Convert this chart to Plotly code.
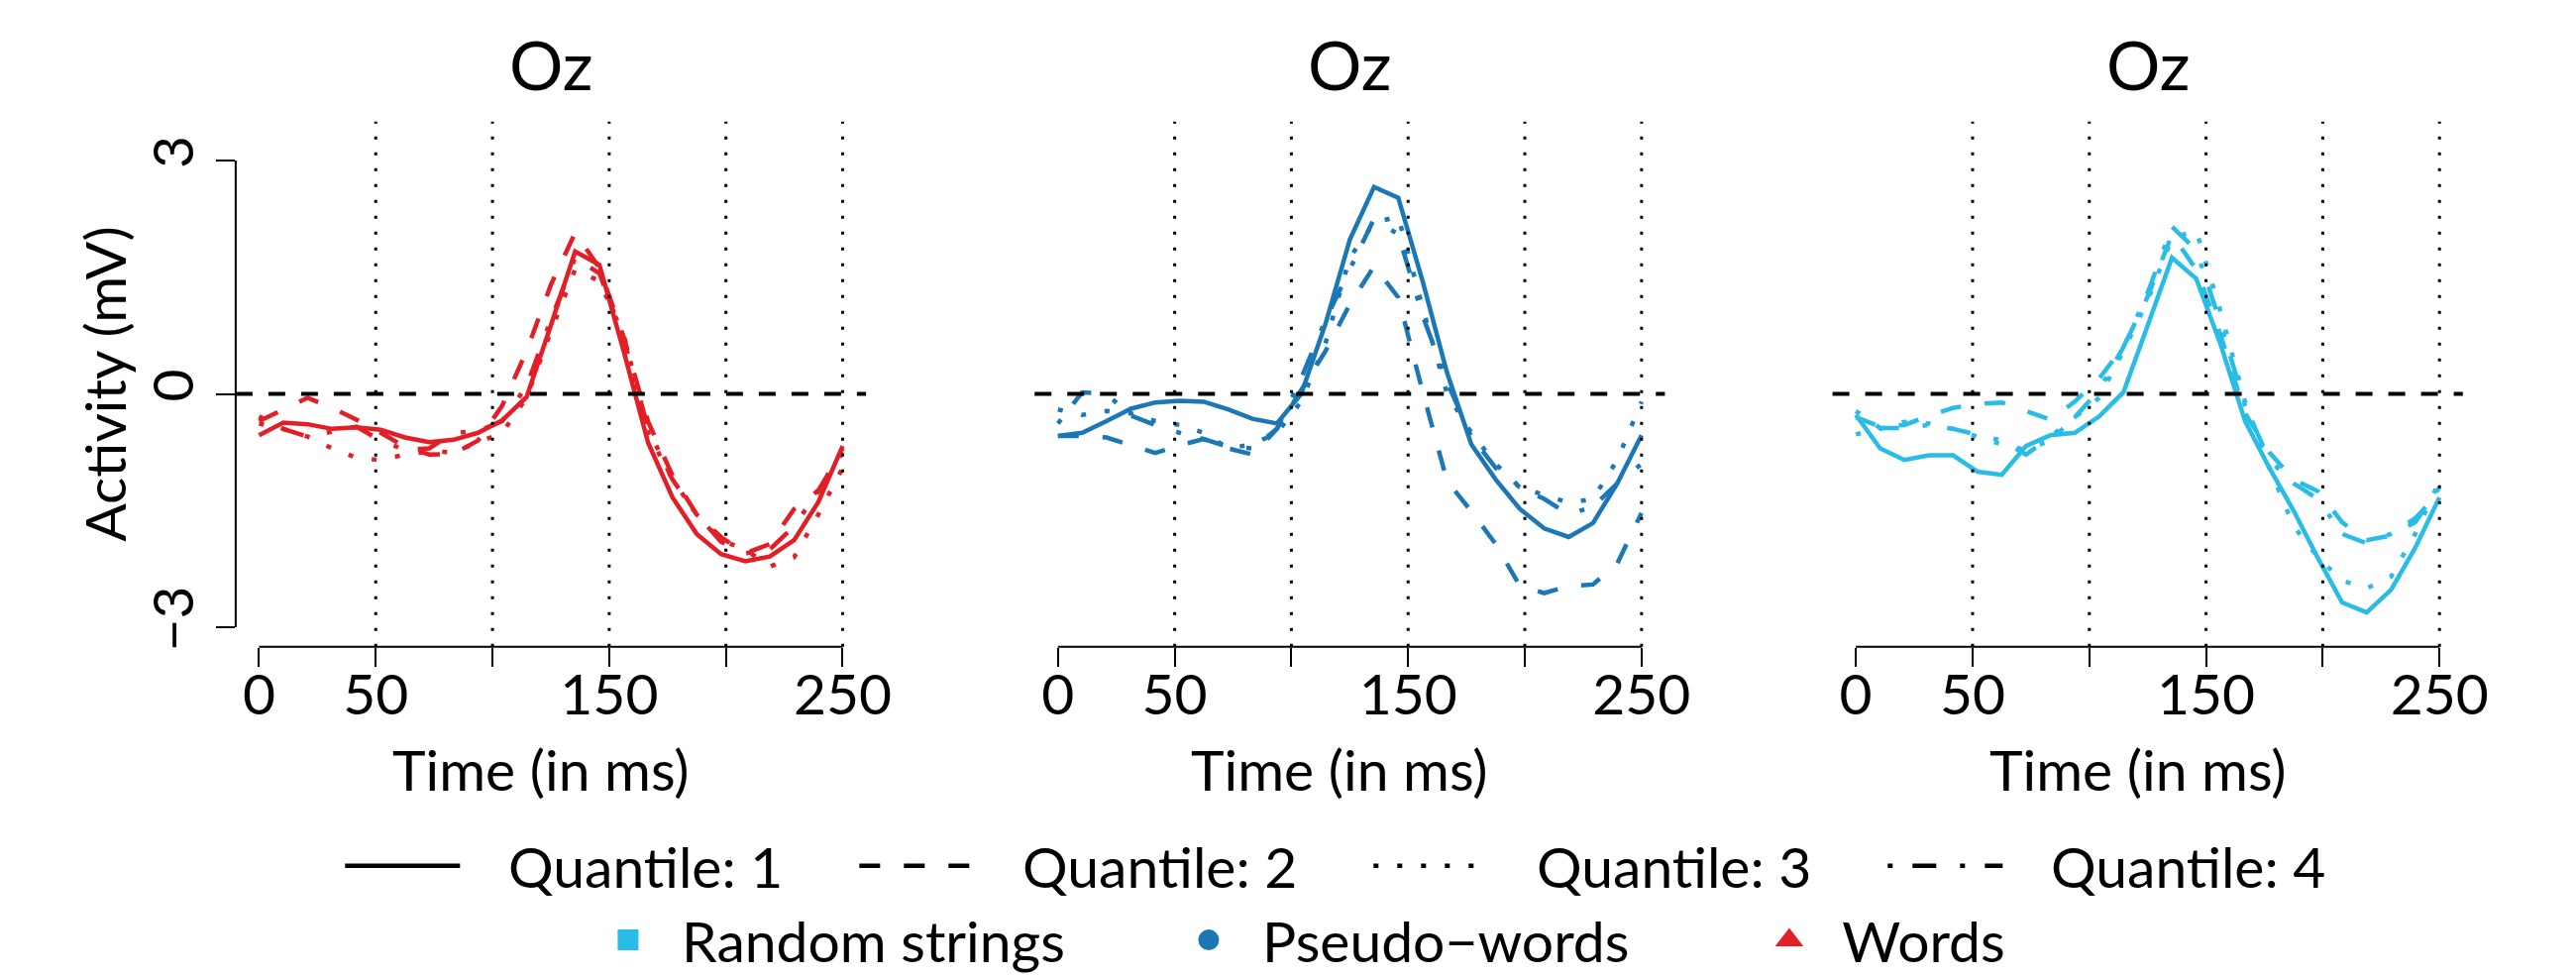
import plotly.graph_objects as go

# ---------------- data ----------------
time_ms = [0, 10.4, 20.8, 31.3, 41.7, 52.1, 62.5, 72.9, 83.3, 93.8, 104.2, 114.6, 125.0,
           135.4, 145.8, 156.3, 166.7, 177.1, 187.5, 197.9, 208.3, 218.8, 229.2, 239.6, 250.0]

panel_titles = ["Oz", "Oz", "Oz"]
quantile_names = ["Quantile: 1", "Quantile: 2", "Quantile: 3", "Quantile: 4"]
condition_names = ["Random strings", "Pseudo\u2212words", "Words"]

# Panel 1 : Words
words_q1 = [-0.53, -0.37, -0.39, -0.45, -0.43, -0.46, -0.56, -0.62, -0.59, -0.50, -0.34, -0.04, 0.88,
            1.83, 1.66, 0.54, -0.63, -1.33, -1.80, -2.06, -2.15, -2.09, -1.88, -1.39, -0.67]
words_q2 = [-0.35, -0.20, -0.05, -0.18, -0.33, -0.50, -0.68, -0.78, -0.77, -0.60, -0.15, 0.55, 1.40,
            2.07, 1.62, 0.72, -0.36, -1.05, -1.55, -1.84, -2.05, -1.93, -1.48, -1.24, -0.75]
words_q3 = [-0.38, -0.45, -0.55, -0.70, -0.82, -0.85, -0.78, -0.74, -0.75, -0.62, -0.50, -0.05, 0.80,
            1.60, 1.45, 0.75, -0.50, -1.10, -1.55, -1.88, -2.00, -2.22, -2.10, -1.55, -0.95]
words_q4 = [-0.29, -0.45, -0.55, -0.48, -0.42, -0.60, -0.72, -0.70, -0.50, -0.48, -0.35, 0.10, 0.95,
            1.75, 1.55, 0.70, -0.45, -1.10, -1.55, -1.90, -2.05, -2.00, -1.70, -1.25, -0.70]

# Panel 2 : Pseudo-words
pseudo_q1 = [-0.54, -0.50, -0.35, -0.19, -0.11, -0.09, -0.10, -0.20, -0.32, -0.38, 0.00, 0.90, 1.98,
             2.66, 2.52, 1.44, 0.27, -0.65, -1.10, -1.48, -1.73, -1.84, -1.66, -1.15, -0.53]
pseudo_q2 = [-0.54, -0.54, -0.56, -0.66, -0.76, -0.66, -0.58, -0.70, -0.78, -0.45, 0.05, 0.55, 1.15,
             1.64, 1.24, 0.02, -1.12, -1.51, -1.93, -2.47, -2.56, -2.47, -2.45, -2.18, -1.53]
pseudo_q3 = [-0.20, -0.27, -0.22, -0.25, -0.35, -0.40, -0.50, -0.70, -0.65, -0.50, -0.10, 0.65, 1.75,
             2.20, 2.28, 1.10, 0.00, -0.50, -0.90, -1.20, -1.30, -1.40, -1.35, -0.85, -0.10]
pseudo_q4 = [-0.38, 0.02, 0.00, -0.28, -0.40, -0.50, -0.58, -0.68, -0.70, -0.45, 0.20, 0.95, 1.60,
             2.25, 2.05, 1.00, 0.15, -0.55, -0.95, -1.20, -1.35, -1.55, -1.45, -1.15, -0.90]

# Panel 3 : Random strings
random_q1 = [-0.27, -0.70, -0.85, -0.79, -0.79, -1.00, -1.04, -0.67, -0.53, -0.50, -0.29, 0.02, 0.88,
             1.75, 1.48, 0.63, -0.35, -0.95, -1.50, -2.11, -2.68, -2.81, -2.52, -1.98, -1.33]
random_q2 = [-0.30, -0.42, -0.40, -0.28, -0.18, -0.13, -0.11, -0.22, -0.33, -0.10, 0.20, 0.60, 1.25,
             2.05, 1.60, 0.75, -0.25, -0.75, -1.10, -1.25, -1.65, -1.88, -1.82, -1.65, -1.20]
random_q3 = [-0.52, -0.45, -0.36, -0.38, -0.45, -0.55, -0.65, -0.72, -0.60, -0.30, -0.05, 0.55, 1.20,
             2.00, 2.10, 1.05, -0.10, -0.95, -1.70, -2.10, -2.40, -2.50, -2.35, -1.80, -1.12]
random_q4 = [-0.22, -0.44, -0.44, -0.40, -0.45, -0.52, -0.60, -0.78, -0.55, -0.30, 0.05, 0.60, 1.30,
             2.15, 1.85, 0.90, -0.15, -0.85, -1.15, -1.35, -1.80, -1.92, -1.80, -1.60, -1.26]

x_tick_vals = [0, 50, 100, 150, 200, 250]
x_tick_text = ["0", "50", "", "150", "", "250"]
y_tick_vals = [-3, 0, 3]
y_tick_text = ["\u22123", "0", "3"]
grid_times = [50, 100, 150, 200, 250]

# ---------------- style ----------------
FONT = "Lato"
FS = 57
COL_WORDS = "#E41E26"
COL_PSEUDO = "#1B77B5"
COL_RANDOM = "#29BCE7"
DASHES = ["solid", "21px,24px", "5px,19px", "5px,20px,24px,24px"]
LW = 4.5
W, H = 2600, 985

panels = [
    (COL_WORDS, [words_q1, words_q2, words_q3, words_q4]),
    (COL_PSEUDO, [pseudo_q1, pseudo_q2, pseudo_q3, pseudo_q4]),
    (COL_RANDOM, [random_q1, random_q2, random_q3, random_q4]),
]
x_domains = [[0.08931, 0.33646], [0.40258, 0.64973], [0.71546, 0.96262]]
y_domain = [0.3374, 0.8821]
X_RANGE = [-10, 260]
Y_RANGE = [-3.25, 3.5]


def sfx(k):
    return "" if k == 1 else str(k)


fig = go.Figure()

for k, (col, series) in enumerate(panels, start=1):
    for q, ys in enumerate(series):
        fig.add_trace(go.Scatter(
            x=time_ms, y=ys, mode="lines",
            line=dict(color=col, width=LW, dash=DASHES[q]),
            xaxis=f"x{sfx(k)}", yaxis=f"y{sfx(k)}", showlegend=False, hoverinfo="skip"))

# legend row 1 (line types)
for q, nm in enumerate(quantile_names):
    fig.add_trace(go.Scatter(
        x=[None], y=[None], mode="lines", name="\u00a0\u00a0\u00a0" + nm,
        line=dict(color="black", width=4.5, dash=DASHES[q]), legend="legend"))

# legend row 2 (conditions)
for nm, col, sym in zip(condition_names, [COL_RANDOM, COL_PSEUDO, COL_WORDS],
                        ["square", "circle", "triangle-up"]):
    fig.add_trace(go.Scatter(
        x=[None], y=[None], mode="markers", name="\u00a0\u00a0" + nm,
        marker=dict(color=col, size=16, symbol=sym, line=dict(color=col, width=8)),
        legend="legend2"))

layout = dict(
    width=W, height=H,
    margin=dict(l=0, r=0, t=0, b=0),
    paper_bgcolor="white", plot_bgcolor="white",
    font=dict(family=FONT, size=FS, color="black"),
    showlegend=True,
    legend=dict(orientation="h", x=338.7 / W, xanchor="left", y=1 - 877 / H, yanchor="middle",
                itemwidth=116, entrywidth=388, entrywidthmode="pixels",
                font=dict(family=FONT, size=FS, color="black"), bgcolor="rgba(0,0,0,0)"),
    legend2=dict(orientation="h", x=607 / W, xanchor="left", y=1 - 953 / H, yanchor="middle",
                 itemwidth=40, entrywidth=531, entrywidthmode="pixels", itemsizing="trace",
                 font=dict(family=FONT, size=FS, color="black"), bgcolor="rgba(0,0,0,0)"),
)

shapes = []
annotations = []
for k in range(1, 4):
    s = sfx(k)
    xa, ya = f"xaxis{s}", f"yaxis{s}"
    xr, yr = f"x{s}", f"y{s}"
    layout[xa] = dict(domain=x_domains[k - 1], range=X_RANGE, anchor=yr,
                      showgrid=False, zeroline=False, showline=False,
                      tickmode="array", tickvals=x_tick_vals, ticktext=x_tick_text,
                      ticks="outside", ticklen=19, tickwidth=2, tickcolor="black",
                      ticklabelstandoff=-20,
                      tickfont=dict(family=FONT, size=FS, color="black"),
                      fixedrange=True)
    if k == 1:
        layout[ya] = dict(domain=y_domain, range=Y_RANGE, anchor=xr,
                          showgrid=False, zeroline=False, showline=False,
                          tickmode="array", tickvals=y_tick_vals, ticktext=y_tick_text,
                          ticks="outside", ticklen=19, tickwidth=2, tickcolor="black",
                          tickangle=-90, tickfont=dict(family=FONT, size=FS, color="black"),
                          fixedrange=True)
    else:
        layout[ya] = dict(domain=y_domain, range=Y_RANGE, anchor=xr, visible=False,
                          showgrid=False, zeroline=False, fixedrange=True)

    # vertical dotted guides
    for t in grid_times:
        shapes.append(dict(type="line", xref=xr, yref=f"{yr} domain", x0=t, x1=t, y0=0, y1=1,
                           line=dict(color="black", width=3, dash="3px,13px"), layer="above"))
    # zero line
    shapes.append(dict(type="line", xref=f"{xr} domain", yref=yr, x0=0, x1=1, y0=0, y1=0,
                       line=dict(color="black", width=4, dash="17px,16px"), layer="above"))
    # x axis line (R style: from first to last tick)
    shapes.append(dict(type="line", xref=xr, yref=f"{yr} domain",
                       x0=x_tick_vals[0], x1=x_tick_vals[-1], y0=0, y1=0,
                       line=dict(color="black", width=2)))
    cx = (x_domains[k - 1][0] + x_domains[k - 1][1]) / 2
    annotations.append(dict(text=panel_titles[k - 1], xref="paper", yref="paper", x=cx, y=1 - 57 / H,
                            xanchor="center", yanchor="middle", showarrow=False,
                            font=dict(family=FONT, size=68, color="black")))
    annotations.append(dict(text="Time (in ms)", xref="paper", yref="paper", x=cx - 10 / W,
                            y=1 - 777 / H, xanchor="center", yanchor="middle", showarrow=False,
                            font=dict(family=FONT, size=FS, color="black")))

# y axis line for panel 1
shapes.append(dict(type="line", xref="x domain", yref="y", x0=0, x1=0,
                   y0=y_tick_vals[0], y1=y_tick_vals[-1], line=dict(color="black", width=2)))
annotations.append(dict(text="Activity (mV)", xref="paper", yref="paper", x=98 / W,
                        y=(y_domain[0] + y_domain[1]) / 2, textangle=-90,
                        xanchor="center", yanchor="middle", showarrow=False,
                        font=dict(family=FONT, size=FS, color="black")))

layout["shapes"] = shapes
layout["annotations"] = annotations
fig.update_layout(**layout)

fig.write_html("out.html")
